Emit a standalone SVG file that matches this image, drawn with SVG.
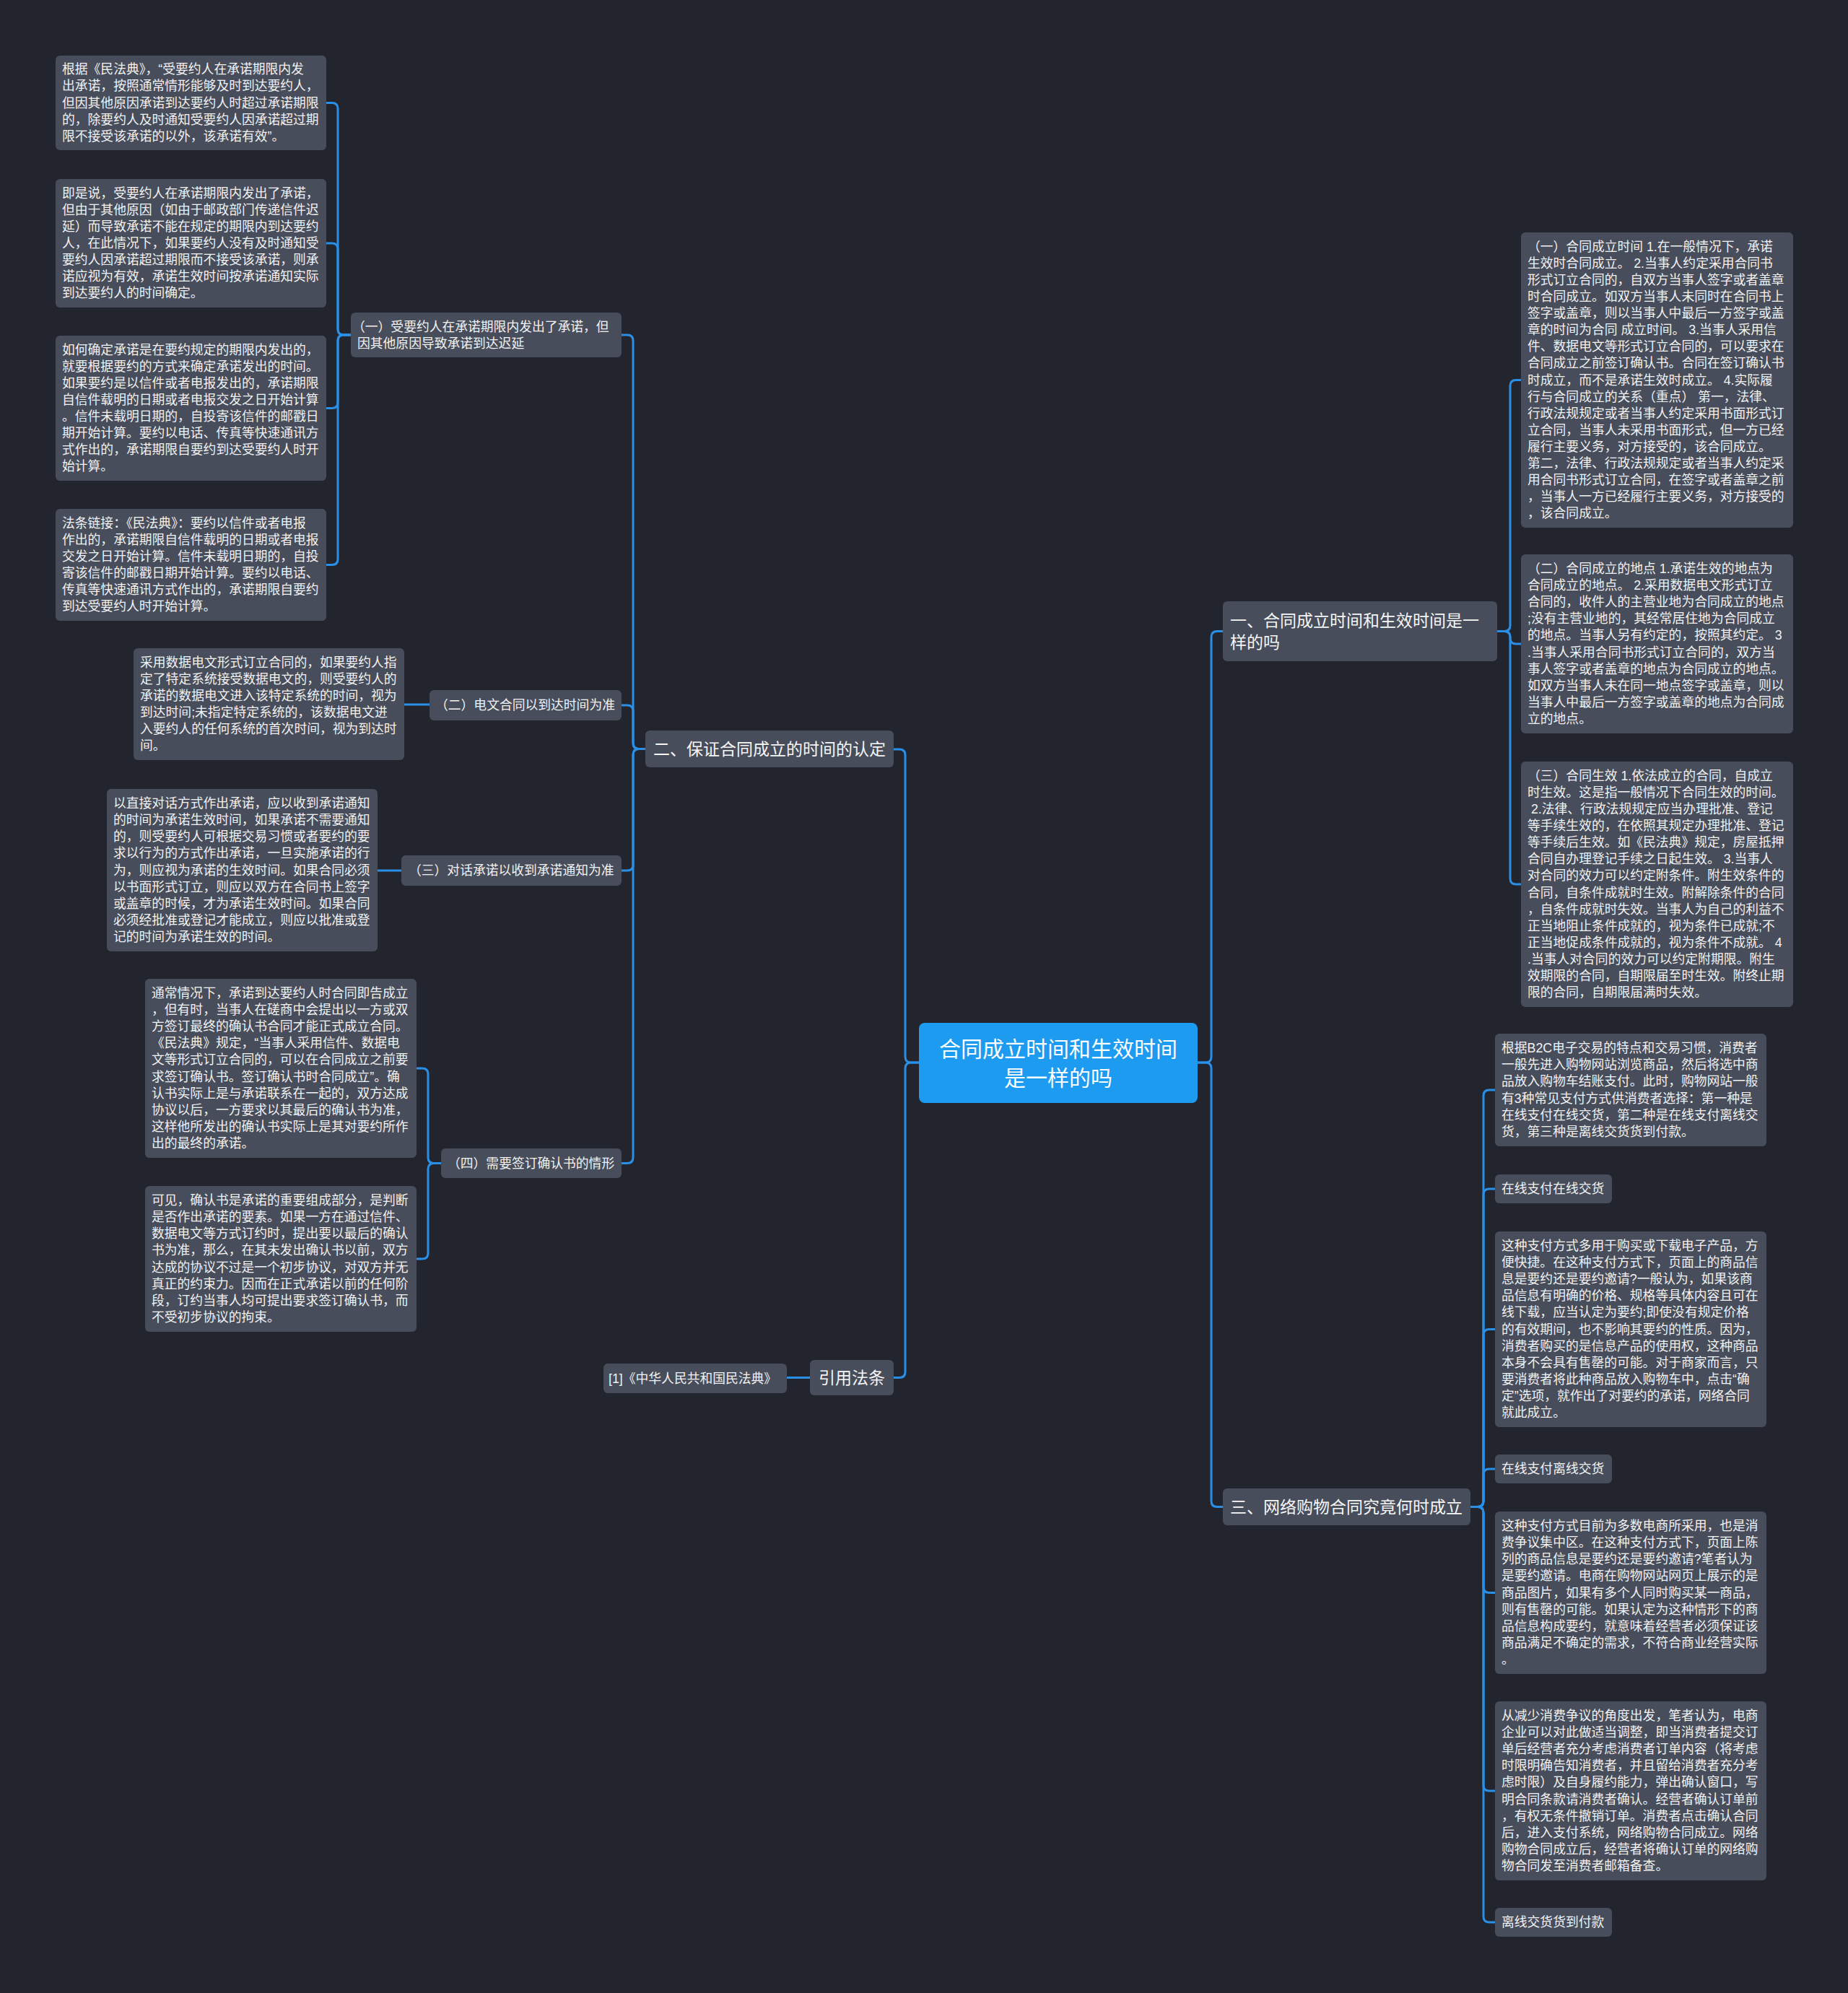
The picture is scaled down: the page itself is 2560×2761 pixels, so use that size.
<svg xmlns="http://www.w3.org/2000/svg" width="2560" height="2761" viewBox="0 0 2560 2761">
<style>
.bg{fill:#22252e}
.box{fill:#474d5b}
.root{fill:#1d9bf0}
.t{font-family:"Liberation Sans","Noto Sans CJK SC",sans-serif;font-size:17.8px;fill:#f2f2f2;dominant-baseline:central}
.t1{font-size:23px;fill:#f6f6f6}
.tc{font-size:30px;fill:#ffffff;text-anchor:middle}
.conn path{fill:none;stroke:#2a8fe6;stroke-width:3}
</style>
<rect class="bg" x="0" y="0" width="2560" height="2761"/>
<g class="conn" id="connectors">
<path d="M1273,1472 H1262 Q1254,1472 1254,1464 V1046 Q1254,1038 1246,1038 H1238"/>
<path d="M1273,1472 H1262 Q1254,1472 1254,1480 V1900.5 Q1254,1908.5 1246,1908.5 H1238"/>
<path d="M1659,1472 H1670 Q1678,1472 1678,1464 V882.5 Q1678,874.5 1686,874.5 H1694"/>
<path d="M1659,1472 H1670 Q1678,1472 1678,1480 V2079.5 Q1678,2087.5 1686,2087.5 H1694"/>
<path d="M894,1037.5 H885 Q877,1037.5 877,1029.5 V472 Q877,464 869,464 H861"/>
<path d="M894,1037.5 H885 Q877,1037.5 877,1029.5 V985 Q877,977 869,977 H861"/>
<path d="M894,1037.5 H885 Q877,1037.5 877,1045.5 V1198 Q877,1206 869,1206 H861"/>
<path d="M894,1037.5 H885 Q877,1037.5 877,1045.5 V1603.5 Q877,1611.5 869,1611.5 H861"/>
<path d="M486,464 H476 Q468,464 468,456 V150.5 Q468,142.5 460,142.5 H452"/>
<path d="M486,464 H476 Q468,464 468,456 V345 Q468,337 460,337 H452"/>
<path d="M486,464 H476 Q468,464 468,472 V557.5 Q468,565.5 460,565.5 H452"/>
<path d="M486,464 H476 Q468,464 468,472 V774.5 Q468,782.5 460,782.5 H452"/>
<path d="M595,976 H560"/>
<path d="M556,1206 H523"/>
<path d="M611,1611.5 H601 Q593,1611.5 593,1603.5 V1488 Q593,1480 585,1480 H577"/>
<path d="M611,1611.5 H601 Q593,1611.5 593,1619.5 V1736 Q593,1744 585,1744 H577"/>
<path d="M1122,1908.5 H1090"/>
<path d="M2074,874.5 H2084 Q2092,874.5 2092,866.5 V534.5 Q2092,526.5 2100,526.5 H2107"/>
<path d="M2074,874.5 H2084 Q2092,874.5 2092,882.5 V884 Q2092,892 2100,892 H2107"/>
<path d="M2074,874.5 H2084 Q2092,874.5 2092,882.5 V1217 Q2092,1225 2100,1225 H2107"/>
<path d="M2037,2087.5 H2047 Q2055,2087.5 2055,2079.5 V1518 Q2055,1510 2063,1510 H2071"/>
<path d="M2037,2087.5 H2047 Q2055,2087.5 2055,2079.5 V1655 Q2055,1647 2063,1647 H2071"/>
<path d="M2037,2087.5 H2047 Q2055,2087.5 2055,2079.5 V1849.5 Q2055,1841.5 2063,1841.5 H2071"/>
<path d="M2037,2087.5 H2047 Q2055,2087.5 2055,2079.5 V2043 Q2055,2035 2063,2035 H2071"/>
<path d="M2037,2087.5 H2047 Q2055,2087.5 2055,2095.5 V2198.5 Q2055,2206.5 2063,2206.5 H2071"/>
<path d="M2037,2087.5 H2047 Q2055,2087.5 2055,2095.5 V2473 Q2055,2481 2063,2481 H2071"/>
<path d="M2037,2087.5 H2047 Q2055,2087.5 2055,2095.5 V2655 Q2055,2663 2063,2663 H2071"/>
</g>

<g id="root">
<rect class="root" x="1273" y="1417" width="386" height="111" rx="8"/>
<text class="t tc"><tspan x="1466" y="1452.5">合同成立时间和生效时间</tspan><tspan x="1466" y="1492.5">是一样的吗</tspan></text>
</g>

<g id="n-sec1">
<rect class="box" x="1694" y="833" width="380" height="83" rx="6"/>
<text class="t t1"><tspan x="1704" y="859.5">一、合同成立时间和生效时间是一</tspan><tspan x="1704" y="889.5">样的吗</tspan></text>
</g>
<g id="n-sec2">
<rect class="box" x="894" y="1012" width="344" height="51" rx="6"/>
<text class="t t1" x="905" y="1037.5">二、保证合同成立的时间的认定</text>
</g>
<g id="n-sec3">
<rect class="box" x="1694" y="2062" width="343" height="51" rx="6"/>
<text class="t t1" x="1704" y="2087.5">三、网络购物合同究竟何时成立</text>
</g>
<g id="n-ref">
<rect class="box" x="1122" y="1884" width="116" height="49" rx="6"/>
<text class="t t1" x="1134" y="1908.5">引用法条</text>
</g>

<g id="n-ref1">
<rect class="box" x="836" y="1889" width="254" height="41" rx="6"/>
<text class="t" x="843" y="1909.5">[1]《中华人民共和国民法典》</text>
</g>

<g id="n-2-1">
<rect class="box" x="486" y="433" width="375" height="62" rx="6"/>
<text class="t"><tspan x="488" y="452.5">（一）受要约人在承诺期限内发出了承诺，但</tspan><tspan x="495" y="475.5">因其他原因导致承诺到达迟延</tspan></text>
</g>
<g id="n-2-2">
<rect class="box" x="595" y="956" width="266" height="42" rx="6"/>
<text class="t" x="603" y="977">（二）电文合同以到达时间为准</text>
</g>
<g id="n-2-3">
<rect class="box" x="556" y="1185" width="305" height="42" rx="6"/>
<text class="t" x="566" y="1206">（三）对话承诺以收到承诺通知为准</text>
</g>
<g id="n-2-4">
<rect class="box" x="611" y="1591" width="250" height="41" rx="6"/>
<text class="t" x="620" y="1611.5">（四）需要签订确认书的情形</text>
</g>

<g id="leaf-l1">
<rect class="box" x="77" y="77" width="375" height="131" rx="6"/>
<text class="t"><tspan x="86" y="96.3">根据《民法典》，“受要约人在承诺期限内发</tspan><tspan x="86" y="119.4">出承诺，按照通常情形能够及时到达要约人，</tspan><tspan x="86" y="142.5">但因其他原因承诺到达要约人时超过承诺期限</tspan><tspan x="86" y="165.6">的，除要约人及时通知受要约人因承诺超过期</tspan><tspan x="86" y="188.7">限不接受该承诺的以外，该承诺有效”。</tspan></text>
</g>
<g id="leaf-l2">
<rect class="box" x="77" y="248" width="375" height="178" rx="6"/>
<text class="t"><tspan x="86" y="267.7">即是说，受要约人在承诺期限内发出了承诺，</tspan><tspan x="86" y="290.8">但由于其他原因（如由于邮政部门传递信件迟</tspan><tspan x="86" y="313.9">延）而导致承诺不能在规定的期限内到达要约</tspan><tspan x="86" y="337">人，在此情况下，如果要约人没有及时通知受</tspan><tspan x="86" y="360.1">要约人因承诺超过期限而不接受该承诺，则承</tspan><tspan x="86" y="383.2">诺应视为有效，承诺生效时间按承诺通知实际</tspan><tspan x="86" y="406.3">到达要约人的时间确定。</tspan></text>
</g>
<g id="leaf-l3">
<rect class="box" x="77" y="465" width="375" height="201" rx="6"/>
<text class="t"><tspan x="86" y="484.65">如何确定承诺是在要约规定的期限内发出的，</tspan><tspan x="86" y="507.75">就要根据要约的方式来确定承诺发出的时间。</tspan><tspan x="86" y="530.85">如果要约是以信件或者电报发出的，承诺期限</tspan><tspan x="86" y="553.95">自信件载明的日期或者电报交发之日开始计算</tspan><tspan x="86" y="577.05">。信件未载明日期的，自投寄该信件的邮戳日</tspan><tspan x="86" y="600.15">期开始计算。要约以电话、传真等快速通讯方</tspan><tspan x="86" y="623.25">式作出的，承诺期限自要约到达受要约人时开</tspan><tspan x="86" y="646.35">始计算。</tspan></text>
</g>
<g id="leaf-l4">
<rect class="box" x="77" y="705" width="375" height="155" rx="6"/>
<text class="t"><tspan x="86" y="724.75">法条链接：《民法典》：要约以信件或者电报</tspan><tspan x="86" y="747.85">作出的，承诺期限自信件载明的日期或者电报</tspan><tspan x="86" y="770.95">交发之日开始计算。信件未载明日期的，自投</tspan><tspan x="86" y="794.05">寄该信件的邮戳日期开始计算。要约以电话、</tspan><tspan x="86" y="817.15">传真等快速通讯方式作出的，承诺期限自要约</tspan><tspan x="86" y="840.25">到达受要约人时开始计算。</tspan></text>
</g>
<g id="leaf-dianwen">
<rect class="box" x="185" y="898" width="375" height="155" rx="6"/>
<text class="t"><tspan x="194" y="917.75">采用数据电文形式订立合同的，如果要约人指</tspan><tspan x="194" y="940.85">定了特定系统接受数据电文的，则受要约人的</tspan><tspan x="194" y="963.95">承诺的数据电文进入该特定系统的时间，视为</tspan><tspan x="194" y="987.05">到达时间;未指定特定系统的，该数据电文进</tspan><tspan x="194" y="1010.15">入要约人的任何系统的首次时间，视为到达时</tspan><tspan x="194" y="1033.25">间。</tspan></text>
</g>
<g id="leaf-duihua">
<rect class="box" x="148" y="1093" width="375" height="225" rx="6"/>
<text class="t"><tspan x="157" y="1113.1">以直接对话方式作出承诺，应以收到承诺通知</tspan><tspan x="157" y="1136.2">的时间为承诺生效时间，如果承诺不需要通知</tspan><tspan x="157" y="1159.3">的，则受要约人可根据交易习惯或者要约的要</tspan><tspan x="157" y="1182.4">求以行为的方式作出承诺，一旦实施承诺的行</tspan><tspan x="157" y="1205.5">为，则应视为承诺的生效时间。如果合同必须</tspan><tspan x="157" y="1228.6">以书面形式订立，则应以双方在合同书上签字</tspan><tspan x="157" y="1251.7">或盖章的时候，才为承诺生效时间。如果合同</tspan><tspan x="157" y="1274.8">必须经批准或登记才能成立，则应以批准或登</tspan><tspan x="157" y="1297.9">记的时间为承诺生效的时间。</tspan></text>
</g>
<g id="leaf-queren1">
<rect class="box" x="201" y="1356" width="376" height="248" rx="6"/>
<text class="t"><tspan x="210" y="1376.05">通常情况下，承诺到达要约人时合同即告成立</tspan><tspan x="210" y="1399.15">，但有时，当事人在磋商中会提出以一方或双</tspan><tspan x="210" y="1422.25">方签订最终的确认书合同才能正式成立合同。</tspan><tspan x="210" y="1445.35">《民法典》规定，“当事人采用信件、数据电</tspan><tspan x="210" y="1468.45">文等形式订立合同的，可以在合同成立之前要</tspan><tspan x="210" y="1491.55">求签订确认书。签订确认书时合同成立”。确</tspan><tspan x="210" y="1514.65">认书实际上是与承诺联系在一起的，双方达成</tspan><tspan x="210" y="1537.75">协议以后，一方要求以其最后的确认书为准，</tspan><tspan x="210" y="1560.85">这样他所发出的确认书实际上是其对要约所作</tspan><tspan x="210" y="1583.95">出的最终的承诺。</tspan></text>
</g>
<g id="leaf-queren2">
<rect class="box" x="201" y="1643" width="376" height="202" rx="6"/>
<text class="t"><tspan x="210" y="1663.15">可见，确认书是承诺的重要组成部分，是判断</tspan><tspan x="210" y="1686.25">是否作出承诺的要素。如果一方在通过信件、</tspan><tspan x="210" y="1709.35">数据电文等方式订约时，提出要以最后的确认</tspan><tspan x="210" y="1732.45">书为准，那么，在其未发出确认书以前，双方</tspan><tspan x="210" y="1755.55">达成的协议不过是一个初步协议，对双方并无</tspan><tspan x="210" y="1778.65">真正的约束力。因而在正式承诺以前的任何阶</tspan><tspan x="210" y="1801.75">段，订约当事人均可提出要求签订确认书，而</tspan><tspan x="210" y="1824.85">不受初步协议的拘束。</tspan></text>
</g>

<g id="leaf-r1">
<rect class="box" x="2107" y="322" width="377" height="409" rx="6"/>
<text class="t"><tspan x="2116" y="341.7">（一）合同成立时间 1.在一般情况下，承诺</tspan><tspan x="2116" y="364.8">生效时合同成立。 2.当事人约定采用合同书</tspan><tspan x="2116" y="387.9">形式订立合同的，自双方当事人签字或者盖章</tspan><tspan x="2116" y="411">时合同成立。如双方当事人未同时在合同书上</tspan><tspan x="2116" y="434.1">签字或盖章，则以当事人中最后一方签字或盖</tspan><tspan x="2116" y="457.2">章的时间为合同 成立时间。 3.当事人采用信</tspan><tspan x="2116" y="480.3">件、数据电文等形式订立合同的，可以要求在</tspan><tspan x="2116" y="503.4">合同成立之前签订确认书。合同在签订确认书</tspan><tspan x="2116" y="526.5">时成立，而不是承诺生效时成立。 4.实际履</tspan><tspan x="2116" y="549.6">行与合同成立的关系（重点） 第一，法律、</tspan><tspan x="2116" y="572.7">行政法规规定或者当事人约定采用书面形式订</tspan><tspan x="2116" y="595.8">立合同，当事人未采用书面形式，但一方已经</tspan><tspan x="2116" y="618.9">履行主要义务，对方接受的，该合同成立。</tspan><tspan x="2116" y="642">第二，法律、行政法规规定或者当事人约定采</tspan><tspan x="2116" y="665.1">用合同书形式订立合同，在签字或者盖章之前</tspan><tspan x="2116" y="688.2">，当事人一方已经履行主要义务，对方接受的</tspan><tspan x="2116" y="711.3">，该合同成立。</tspan></text>
</g>
<g id="leaf-r2">
<rect class="box" x="2107" y="768" width="377" height="248" rx="6"/>
<text class="t"><tspan x="2116" y="788.05">（二）合同成立的地点 1.承诺生效的地点为</tspan><tspan x="2116" y="811.15">合同成立的地点。 2.采用数据电文形式订立</tspan><tspan x="2116" y="834.25">合同的，收件人的主营业地为合同成立的地点</tspan><tspan x="2116" y="857.35">;没有主营业地的，其经常居住地为合同成立</tspan><tspan x="2116" y="880.45">的地点。当事人另有约定的，按照其约定。 3</tspan><tspan x="2116" y="903.55">.当事人采用合同书形式订立合同的，双方当</tspan><tspan x="2116" y="926.65">事人签字或者盖章的地点为合同成立的地点。</tspan><tspan x="2116" y="949.75">如双方当事人未在同一地点签字或盖章，则以</tspan><tspan x="2116" y="972.85">当事人中最后一方签字或盖章的地点为合同成</tspan><tspan x="2116" y="995.95">立的地点。</tspan></text>
</g>
<g id="leaf-r3">
<rect class="box" x="2107" y="1055" width="377" height="340" rx="6"/>
<text class="t"><tspan x="2116" y="1074.85">（三）合同生效 1.依法成立的合同，自成立</tspan><tspan x="2116" y="1097.95">时生效。这是指一般情况下合同生效的时间。</tspan><tspan x="2116" y="1121.05">&#160;2.法律、行政法规规定应当办理批准、登记</tspan><tspan x="2116" y="1144.15">等手续生效的，在依照其规定办理批准、登记</tspan><tspan x="2116" y="1167.25">等手续后生效。如《民法典》规定，房屋抵押</tspan><tspan x="2116" y="1190.35">合同自办理登记手续之日起生效。 3.当事人</tspan><tspan x="2116" y="1213.45">对合同的效力可以约定附条件。附生效条件的</tspan><tspan x="2116" y="1236.55">合同，自条件成就时生效。附解除条件的合同</tspan><tspan x="2116" y="1259.65">，自条件成就时失效。当事人为自己的利益不</tspan><tspan x="2116" y="1282.75">正当地阻止条件成就的，视为条件已成就;不</tspan><tspan x="2116" y="1305.85">正当地促成条件成就的，视为条件不成就。 4</tspan><tspan x="2116" y="1328.95">.当事人对合同的效力可以约定附期限。附生</tspan><tspan x="2116" y="1352.05">效期限的合同，自期限届至时生效。附终止期</tspan><tspan x="2116" y="1375.15">限的合同，自期限届满时失效。</tspan></text>
</g>

<g id="leaf-b2c">
<rect class="box" x="2071" y="1432" width="376" height="156" rx="6"/>
<text class="t"><tspan x="2080" y="1452.25">根据B2C电子交易的特点和交易习惯，消费者</tspan><tspan x="2080" y="1475.35">一般先进入购物网站浏览商品，然后将选中商</tspan><tspan x="2080" y="1498.45">品放入购物车结账支付。此时，购物网站一般</tspan><tspan x="2080" y="1521.55">有3种常见支付方式供消费者选择：第一种是</tspan><tspan x="2080" y="1544.65">在线支付在线交货，第二种是在线支付离线交</tspan><tspan x="2080" y="1567.75">货，第三种是离线交货货到付款。</tspan></text>
</g>
<g id="n-online-online">
<rect class="box" x="2071" y="1627" width="162" height="40" rx="6"/>
<text class="t" x="2080" y="1647">在线支付在线交货</text>
</g>
<g id="leaf-online-online">
<rect class="box" x="2071" y="1706" width="376" height="271" rx="6"/>
<text class="t"><tspan x="2080" y="1726">这种支付方式多用于购买或下载电子产品，方</tspan><tspan x="2080" y="1749.1">便快捷。在这种支付方式下，页面上的商品信</tspan><tspan x="2080" y="1772.2">息是要约还是要约邀请?一般认为，如果该商</tspan><tspan x="2080" y="1795.3">品信息有明确的价格、规格等具体内容且可在</tspan><tspan x="2080" y="1818.4">线下载，应当认定为要约;即使没有规定价格</tspan><tspan x="2080" y="1841.5">的有效期间，也不影响其要约的性质。因为，</tspan><tspan x="2080" y="1864.6">消费者购买的是信息产品的使用权，这种商品</tspan><tspan x="2080" y="1887.7">本身不会具有售罄的可能。对于商家而言，只</tspan><tspan x="2080" y="1910.8">要消费者将此种商品放入购物车中，点击“确</tspan><tspan x="2080" y="1933.9">定”选项，就作出了对要约的承诺，网络合同</tspan><tspan x="2080" y="1957">就此成立。</tspan></text>
</g>
<g id="n-online-offline">
<rect class="box" x="2071" y="2015" width="162" height="40" rx="6"/>
<text class="t" x="2080" y="2035">在线支付离线交货</text>
</g>
<g id="leaf-online-offline">
<rect class="box" x="2071" y="2094" width="376" height="225" rx="6"/>
<text class="t"><tspan x="2080" y="2114.1">这种支付方式目前为多数电商所采用，也是消</tspan><tspan x="2080" y="2137.2">费争议集中区。在这种支付方式下，页面上陈</tspan><tspan x="2080" y="2160.3">列的商品信息是要约还是要约邀请?笔者认为</tspan><tspan x="2080" y="2183.4">是要约邀请。电商在购物网站网页上展示的是</tspan><tspan x="2080" y="2206.5">商品图片，如果有多个人同时购买某一商品，</tspan><tspan x="2080" y="2229.6">则有售罄的可能。如果认定为这种情形下的商</tspan><tspan x="2080" y="2252.7">品信息构成要约，就意味着经营者必须保证该</tspan><tspan x="2080" y="2275.8">商品满足不确定的需求，不符合商业经营实际</tspan><tspan x="2080" y="2298.9">。</tspan></text>
</g>
<g id="leaf-reduce">
<rect class="box" x="2071" y="2357" width="376" height="248" rx="6"/>
<text class="t"><tspan x="2080" y="2377.05">从减少消费争议的角度出发，笔者认为，电商</tspan><tspan x="2080" y="2400.15">企业可以对此做适当调整，即当消费者提交订</tspan><tspan x="2080" y="2423.25">单后经营者充分考虑消费者订单内容（将考虑</tspan><tspan x="2080" y="2446.35">时限明确告知消费者，并且留给消费者充分考</tspan><tspan x="2080" y="2469.45">虑时限）及自身履约能力，弹出确认窗口，写</tspan><tspan x="2080" y="2492.55">明合同条款请消费者确认。经营者确认订单前</tspan><tspan x="2080" y="2515.65">，有权无条件撤销订单。消费者点击确认合同</tspan><tspan x="2080" y="2538.75">后，进入支付系统，网络购物合同成立。网络</tspan><tspan x="2080" y="2561.85">购物合同成立后，经营者将确认订单的网络购</tspan><tspan x="2080" y="2584.95">物合同发至消费者邮箱备查。</tspan></text>
</g>
<g id="n-offline-cod">
<rect class="box" x="2071" y="2643" width="162" height="40" rx="6"/>
<text class="t" x="2080" y="2663">离线交货货到付款</text>
</g>
</svg>
